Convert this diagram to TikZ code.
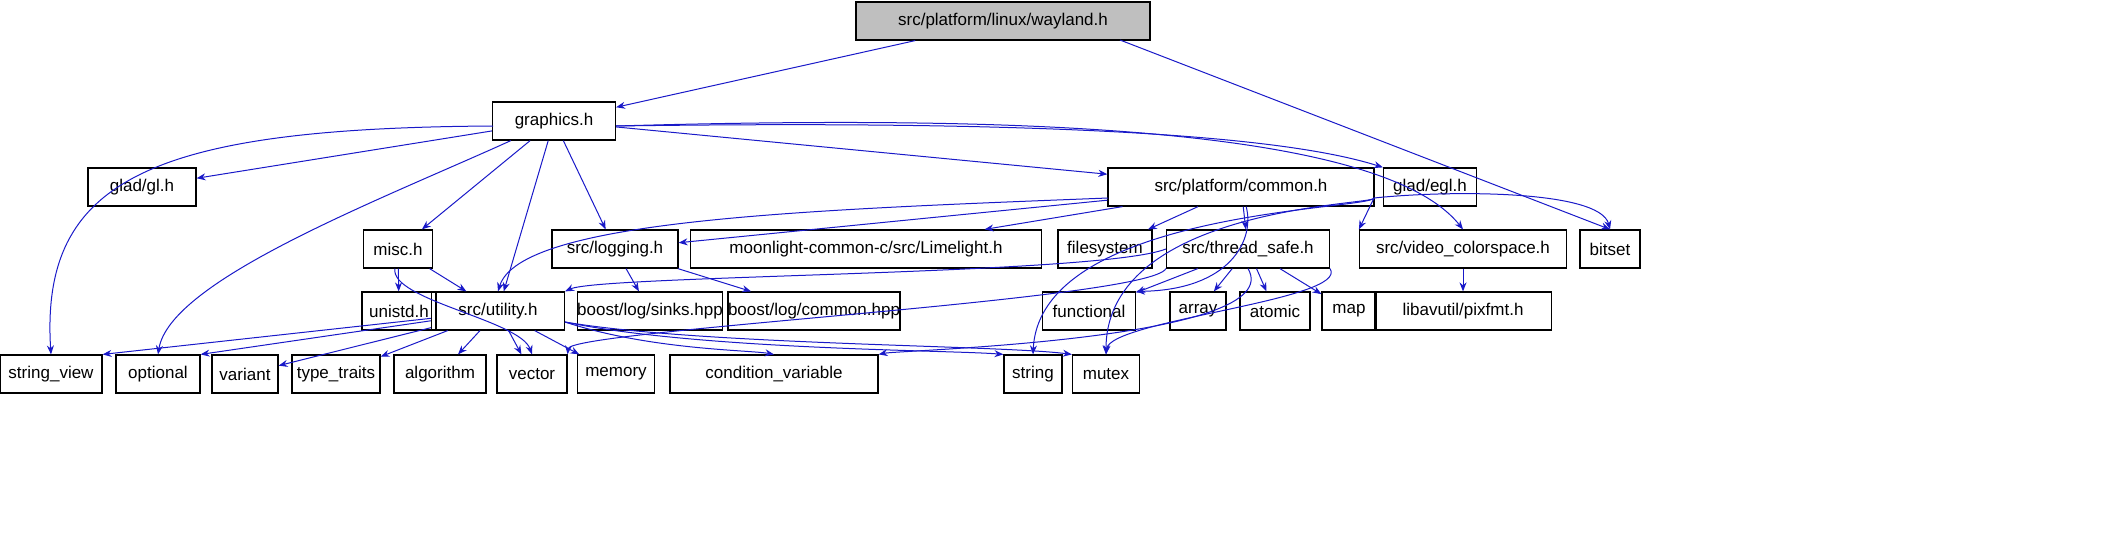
\documentclass[tikz,border=0pt]{standalone}
\usepackage{fontspec}
\usetikzlibrary{arrows.meta}
\setmainfont{Liberation Sans}
\begin{document}
\begin{tikzpicture}[x=1pt,y=-1pt,
 b/.style={draw,line width=1.2pt,minimum height=38pt,inner sep=0pt,font=\fontsize{17}{20}\selectfont},
 e/.style={draw={rgb,255:red,25;green,25;blue,200},line width=1pt,-{Stealth[length=9pt,width=7pt]}}]
\useasboundingbox (0,0) rectangle (2123,539);
\def\N#1#2#3#4#5{\node[b,minimum width=#4pt] (#1) at (#2,#3) {#5};}
\node[b,minimum width=294pt,fill={rgb,255:red,191;green,191;blue,191}] (w) at (1003,21) {src/platform/linux/wayland.h};
\N{g}{554}{121}{123}{graphics.h}
\N{gl}{142}{187}{108}{glad/gl.h}
\N{c}{1241}{187}{266}{src/platform/common.h}
\N{egl}{1430}{187}{93}{glad/egl.h}
\N{misc}{398}{249}{69}{misc.h}
\N{log}{615}{249}{126}{src/logging.h}
\N{lime}{866}{249}{351}{moonlight-common-c/src/Limelight.h}
\N{fs}{1105}{249}{94}{filesystem}
\N{ts}{1248}{249}{163}{src/thread\_safe.h}
\N{vc}{1463}{249}{207}{src/video\_colorspace.h}
\N{bs}{1610}{249}{60}{bitset}
\N{un}{399}{311}{74}{unistd.h}
\N{u}{498}{311}{133}{src/utility.h}
\N{sk}{650}{311}{143}{boost/log/sinks.hpp}
\N{cm}{814}{311}{159}{boost/log/common.hpp}
\N{fn}{1089}{311}{93}{functional}
\N{ar}{1198}{311}{56}{array}
\N{at}{1275}{311}{70}{atomic}
\N{mp}{1349}{311}{54}{map}
\N{px}{1463}{311}{177}{libavutil/pixfmt.h}
\N{sv}{51}{374}{102}{string\_view}
\N{op}{158}{374}{84}{optional}
\N{va}{245}{374}{66}{variant}
\N{tt}{336}{374}{88}{type\_traits}
\N{al}{440}{374}{92}{algorithm}
\N{ve}{532}{374}{70}{vector}
\N{me}{616}{374}{77}{memory}
\N{cv}{774}{374}{208}{condition\_variable}
\N{st}{1033}{374}{58}{string}
\N{mu}{1106}{374}{67}{mutex}
\coordinate (wx) at (1120,40);
\coordinate (gw) at (493,126);
\coordinate (ge) at (616,126);
\coordinate (cw) at (1108,198);
\coordinate (ce) at (1374,198);
\coordinate (ue) at (565,322);
\draw[e] (w) -- (g);
\draw[e] (wx) -- (bs.north);
\draw[e] (gw) .. controls (150,128) and (40,180) .. (sv.north);
\draw[e] (g) -- (gl);
\draw[e] (g) .. controls (380,200) and (170,280) .. (op.north);
\draw[e] (g) -- (misc);
\draw[e] (g) -- (u);
\draw[e] (g) -- (log);
\draw[e] (g) -- (c);
\draw[e] (ge) .. controls (900,122) and (1250,125) .. (egl.north west);
\draw[e] (ge) .. controls (1000,115) and (1380,125) .. (vc.north);
\draw[e] (cw) .. controls (800,210) and (520,220) .. (u.north);
\draw[e] (c) -- (log);
\draw[e] (c) -- (lime);
\draw[e] (c) -- (fs);
\draw[e] (c) .. controls (1255,240) and (1230,290) .. (fn.north east);
\draw[e] (c) -- (ts);
\draw[e] (ce) .. controls (1370,210) and (1040,210) .. (st.north);
\draw[e] (ce) .. controls (1380,205) and (1106,205) .. (mu.north);
\draw[e] (ce) -- (vc.north west);
\draw[e] (ce) .. controls (1450,190) and (1600,190) .. (bs.north);
\draw[e] (misc) -- (un);
\draw[e] (misc) -- (u);
\draw[e] (misc) .. controls (390,300) and (520,320) .. (ve.north);
\draw[e] (log) -- (sk);
\draw[e] (log) -- (cm);
\draw[e] (ts.west) .. controls (1100,275) and (600,275) .. (u.north east);
\draw[e] (ts) -- (fn);
\draw[e] (ts) -- (ar);
\draw[e] (ts) -- (at);
\draw[e] (ts) -- (mp);
\draw[e] (ts.south west) .. controls (1150,300) and (570,330) .. (ve.north east);
\draw[e] (ts.south) .. controls (1290,340) and (900,350) .. (cv.north east);
\draw[e] (ts.south east) .. controls (1350,300) and (1110,320) .. (mu.north);
\draw[e] (u) -- (sv.north east);
\draw[e] (u) -- (op.north east);
\draw[e] (u) -- (va);
\draw[e] (u) -- (tt);
\draw[e] (u) -- (al);
\draw[e] (u) -- (ve);
\draw[e] (u) -- (me);
\draw[e] (ue) .. controls (650,350) and (750,350) .. (cv.north);
\draw[e] (ue) .. controls (700,350) and (950,350) .. (st.north west);
\draw[e] (ue) .. controls (700,345) and (1000,345) .. (mu.north west);
\draw[e] (vc) -- (px);
\end{tikzpicture}
\end{document}
